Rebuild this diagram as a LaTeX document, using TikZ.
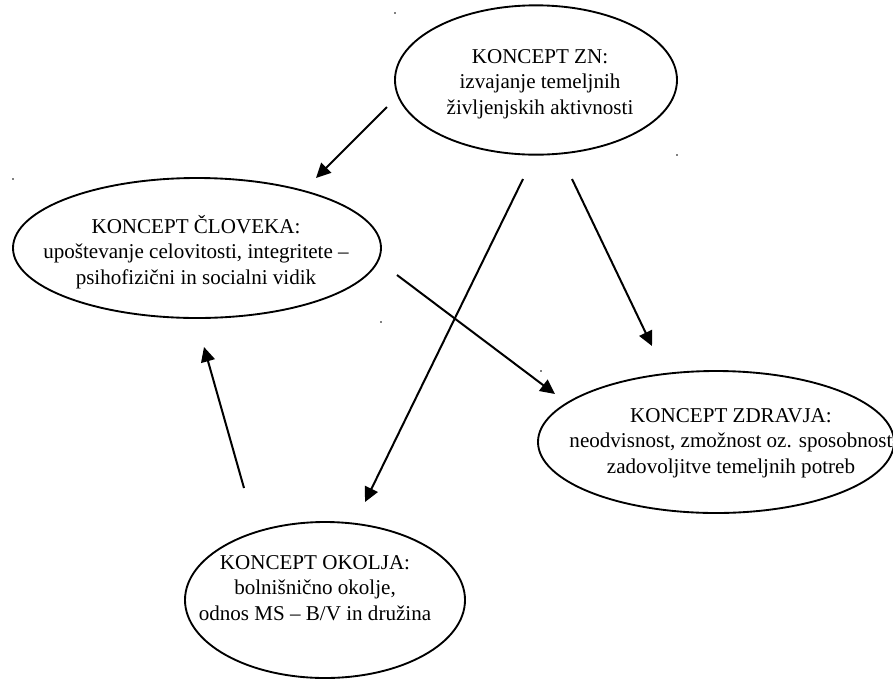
\documentclass[tikz,border=0pt]{standalone}
\usepackage{fontspec}
\setmainfont{Liberation Serif}
\usetikzlibrary{arrows.meta,shapes.geometric}
\begin{document}
\begin{tikzpicture}[x=0.75pt,y=-0.75pt,
  concept/.style={draw=black, line width=1.4pt, ellipse, inner sep=0pt},
  conceptlabel/.style={align=center, font=\fontsize{15.8}{19}\selectfont, inner sep=0pt},
  link/.style={line width=1.5pt, -{Triangle[length=11pt,width=10.5pt]}},
  speck/.style={fill=black, circle, inner sep=0pt, minimum size=1.3pt}]
\useasboundingbox (0,0) rectangle (893,679);

% ellipses
\node[concept, minimum width=211.5pt, minimum height=112pt] (zn) at (536,80) {};
\node[concept, minimum width=276pt, minimum height=105pt] (clovek) at (197,248) {};
\node[concept, minimum width=267pt, minimum height=106.5pt] (zdravje) at (716,442) {};
\node[concept, minimum width=210pt, minimum height=117pt] (okolje) at (325,600) {};

% labels
\node[conceptlabel] (znlabel) at (540,84) {KONCEPT ZN:\\izvajanje temeljnih\\življenjskih aktivnosti};
\node[conceptlabel] (clovlabel) at (196,252) {KONCEPT ČLOVEKA:\\upoštevanje celovitosti, integritete –\\psihofizični in socialni vidik};
\node[conceptlabel] (zdrlabel) at (731,443) {KONCEPT ZDRAVJA:\\neodvisnost, zmožnost oz. sposobnost\\zadovoljitve temeljnih potreb};
\node[conceptlabel] (okolabel) at (315,588) {KONCEPT OKOLJA:\\bolnišnično okolje,\\odnos MS – B/V in družina};

% connector end points
\coordinate (a1s) at (387,107);
\coordinate (a1e) at (316,178);
\coordinate (a2s) at (572,179);
\coordinate (a2e) at (652,346);
\coordinate (a3s) at (523,179);
\coordinate (a3e) at (365,502);
\coordinate (a4s) at (397,275);
\coordinate (a4e) at (555,394);
\coordinate (a5s) at (244,488);
\coordinate (a5e) at (204,347);

\draw[link] (a1s) -- (a1e);
\draw[link] (a2s) -- (a2e);
\draw[link] (a3s) -- (a3e);
\draw[link] (a4s) -- (a4e);
\draw[link] (a5s) -- (a5e);

% stray specks
\node[speck] (s1) at (395,13) {};
\node[speck] (s2) at (677,155) {};
\node[speck] (s3) at (13,179) {};
\node[speck] (s4) at (381,322) {};
\node[speck] (s5) at (541,371) {};
\end{tikzpicture}
\end{document}
